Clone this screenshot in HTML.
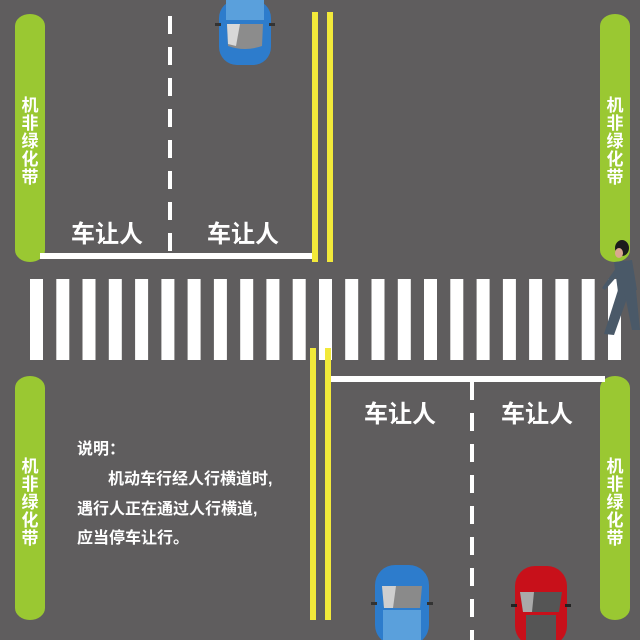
<!DOCTYPE html>
<html><head><meta charset="utf-8"><style>
html,body{margin:0;padding:0;background:#5f5d5e;}
svg{display:block}
text{font-family:"Liberation Sans","Noto Sans CJK SC",sans-serif;fill:#fff}
</style></head><body>
<svg width="640" height="640" viewBox="0 0 640 640" xmlns="http://www.w3.org/2000/svg">
<rect width="640" height="640" fill="#5f5d5e"/>
<g fill="#9ac832">
<rect x="15" y="14" width="30" height="248" rx="15" ry="12"/>
<rect x="600" y="14" width="30" height="248" rx="15" ry="12"/>
<rect x="15" y="376" width="30" height="244" rx="15" ry="12"/>
<rect x="600" y="376" width="30" height="244" rx="15" ry="12"/>
</g>
<g font-size="17" font-weight="bold" text-anchor="middle">
<text x="30" y="111">机</text><text x="30" y="129">非</text><text x="30" y="147">绿</text><text x="30" y="165">化</text><text x="30" y="183">带</text>
<text x="615" y="111">机</text><text x="615" y="129">非</text><text x="615" y="147">绿</text><text x="615" y="165">化</text><text x="615" y="183">带</text>
<text x="30" y="472">机</text><text x="30" y="490">非</text><text x="30" y="508">绿</text><text x="30" y="526">化</text><text x="30" y="544">带</text>
<text x="615" y="472">机</text><text x="615" y="490">非</text><text x="615" y="508">绿</text><text x="615" y="526">化</text><text x="615" y="544">带</text>
</g>
<rect x="40" y="253" width="274" height="6" fill="#fff"/>
<rect x="330" y="376" width="275" height="6" fill="#fff"/>
<line x1="170" y1="16" x2="170" y2="253" stroke="#fff" stroke-width="4" stroke-dasharray="18 13"/>
<line x1="472" y1="382" x2="472" y2="640" stroke="#fff" stroke-width="4" stroke-dasharray="18 13"/>
<g fill="#fff">
<rect x="30" y="279" width="13" height="81"/><rect x="56.3" y="279" width="13" height="81"/><rect x="82.5" y="279" width="13" height="81"/><rect x="108.8" y="279" width="13" height="81"/><rect x="135.1" y="279" width="13" height="81"/><rect x="161.4" y="279" width="13" height="81"/><rect x="187.6" y="279" width="13" height="81"/><rect x="213.9" y="279" width="13" height="81"/><rect x="240.2" y="279" width="13" height="81"/><rect x="266.4" y="279" width="13" height="81"/><rect x="292.7" y="279" width="13" height="81"/><rect x="319" y="279" width="13" height="81"/><rect x="345.2" y="279" width="13" height="81"/><rect x="371.5" y="279" width="13" height="81"/><rect x="397.8" y="279" width="13" height="81"/><rect x="424" y="279" width="13" height="81"/><rect x="450.3" y="279" width="13" height="81"/><rect x="476.6" y="279" width="13" height="81"/><rect x="502.9" y="279" width="13" height="81"/><rect x="529.1" y="279" width="13" height="81"/><rect x="555.4" y="279" width="13" height="81"/><rect x="581.7" y="279" width="13" height="81"/><rect x="608" y="279" width="13" height="81"/>
</g>
<g fill="#f2e93a">
<rect x="312" y="12" width="6" height="250"/><rect x="327" y="12" width="6" height="250"/>
<rect x="310" y="348" width="6" height="272"/><rect x="325" y="348" width="6" height="272"/>
</g>
<g font-size="24" font-weight="bold">
<text x="71" y="242">车让人</text><text x="207" y="242">车让人</text>
<text x="364" y="422">车让人</text><text x="501" y="422">车让人</text>
</g>
<g font-size="16" font-weight="bold">
<text x="77" y="454">说明：</text>
<text x="108" y="484">机动车行经人行横道时,</text>
<text x="77" y="514">遇行人正在通过人行横道,</text>
<text x="77" y="543">应当停车让行。</text>
</g>
<g>
<rect x="219" y="0" width="52" height="65" rx="18" fill="#2d7ccc"/>
<rect x="226" y="0" width="38" height="20" fill="#5aa0dc"/>
<path d="M227 24 L263 24 L262 46 Q245 52 228 46 Z" fill="#8c8c8c"/>
<path d="M227 24 L240 24 L236 46 L228 44 Z" fill="#d8d8d8"/>
<rect x="215" y="23" width="6" height="3" fill="#333"/><rect x="269" y="23" width="6" height="3" fill="#333"/>
</g>
<g>
<rect x="375" y="565" width="54" height="80" rx="20" fill="#2d7ccc"/>
<path d="M382 586 L422 586 L420 608 L384 608 Z" fill="#8a8a8a"/>
<path d="M382 586 L396 586 L393 608 L384 608 Z" fill="#cfcfcf"/>
<rect x="383" y="610" width="38" height="30" fill="#5aa0dc"/>
<rect x="371" y="602" width="6" height="3" fill="#333"/><rect x="427" y="602" width="6" height="3" fill="#333"/>
</g>
<g>
<rect x="515" y="566" width="52" height="80" rx="20" fill="#c8101a"/>
<path d="M520 592 L562 592 L559 612 L523 612 Z" fill="#555"/>
<path d="M520 592 L534 592 L532 612 L523 612 Z" fill="#aaa"/>
<rect x="526" y="615" width="30" height="25" fill="#555"/>
<rect x="511" y="604" width="6" height="3" fill="#222"/><rect x="565" y="604" width="6" height="3" fill="#222"/>
</g>
<g>
<ellipse cx="622" cy="248" rx="7" ry="8" fill="#1c1c1c"/>
<ellipse cx="619" cy="253" rx="4" ry="5" fill="#d9a88f"/>
<path d="M614 262 L632 260 L637 290 L618 292 Z" fill="#4a5968"/>
<path d="M616 268 L602 288 L605 290 L619 274 Z" fill="#4a5968"/>
<path d="M618 290 L630 290 L614 335 L604 334 Z" fill="#4a5968"/>
<path d="M624 290 L636 290 L640 330 L632 330 Z" fill="#4a5968"/>
</g>
</svg>
</body></html>
